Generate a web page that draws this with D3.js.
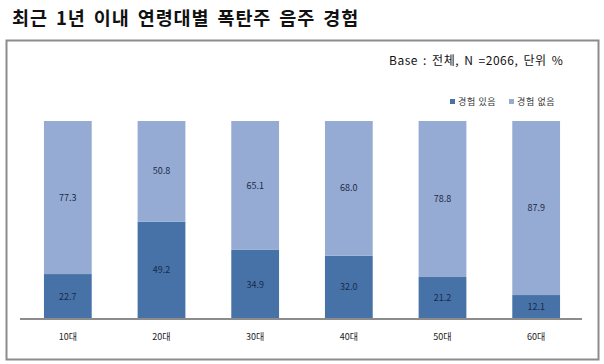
<!DOCTYPE html>
<html>
<head>
<meta charset="utf-8">
<script src="https://cdn.jsdelivr.net/npm/d3@7"></script>
<style>
  body { margin: 0; background: #fff; }
  text { font-family: "Noto Sans CJK KR", "Noto Sans", sans-serif; }
</style>
</head>
<body>
<div id="chart"></div>
<script>
const categories = ["10대", "20대", "30대", "40대", "50대", "60대"];
const withExp = [22.7, 49.2, 34.9, 32.0, 21.2, 12.1];
const withoutExp = [77.3, 50.8, 65.1, 68.0, 78.8, 87.9];
const seriesNames = ["경험 있음", "경험 없음"];
const colors = ["#4672a8", "#96abd3"];

const width = 604, height = 364;

const svg = d3.select("#chart")
    .append("svg")
    .attr("width", width)
    .attr("height", height);

// title
svg.append("text")
    .attr("x", 12)
    .attr("y", 25)
    .attr("font-size", 18.5)
    .attr("font-weight", "bold")
    .attr("fill", "#111")
    .style("letter-spacing", "0.9px")
    .style("word-spacing", "3px")
    .text("최근 1년 이내 연령대별 폭탄주 음주 경험");

// chart frame
svg.append("rect")
    .attr("x", 6.5).attr("y", 40.5)
    .attr("width", 592).attr("height", 319)
    .attr("fill", "#fff")
    .attr("stroke", "#8c8c8c")
    .attr("stroke-width", 2);

svg.append("text")
    .attr("x", 389)
    .attr("y", 65)
    .attr("font-size", 12)
    .attr("fill", "#111")
    .style("letter-spacing", "0.5px")
    .style("word-spacing", "2px")
    .text("Base : 전체, N =2066, 단위 %");

const x = d3.scaleBand()
    .domain(categories)
    .range([21, 583])
    .paddingInner(0.49)
    .paddingOuter(0.245);

const y = d3.scaleLinear()
    .domain([0, 100])
    .range([319, 121]);

const rows = categories.map((c, i) => ({ cat: c, a: withExp[i], b: withoutExp[i] }));
const stack = d3.stack().keys(["a", "b"])(rows);

const layer = svg.selectAll(".layer")
    .data(stack)
    .join("g")
    .attr("class", "layer")
    .attr("fill", (d, i) => colors[i]);

layer.selectAll("rect")
    .data(d => d)
    .join("rect")
    .attr("x", d => x(d.data.cat))
    .attr("width", x.bandwidth())
    .attr("y", d => y(d[1]))
    .attr("height", d => y(d[0]) - y(d[1]));

layer.selectAll("text")
    .data(d => d)
    .join("text")
    .attr("x", d => x(d.data.cat) + x.bandwidth() / 2)
    .attr("y", d => (y(d[0]) + y(d[1])) / 2)
    .attr("dy", "0.35em")
    .attr("text-anchor", "middle")
    .attr("font-size", 9)
    .attr("fill", "#1b2a48")
    .text(d => (d[1] - d[0]).toFixed(1));

// x axis
const xAxis = svg.append("g")
    .attr("transform", "translate(0,319)")
    .call(d3.axisBottom(x).tickSize(0).tickPadding(15));
xAxis.select(".domain")
    .attr("d", "M20,0H582")
    .attr("stroke", "#8c8c8c")
    .attr("stroke-width", 2);
xAxis.selectAll("text")
    .attr("font-size", 9)
    .attr("fill", "#222")
    .style("font-family", "'Noto Sans CJK KR', sans-serif");

// legend
const legendX = [450, 509];
const legend = svg.selectAll(".legend")
    .data(seriesNames)
    .join("g")
    .attr("class", "legend")
    .attr("transform", (d, i) => `translate(${legendX[i]},102)`);
legend.append("rect")
    .attr("x", 0).attr("y", -3)
    .attr("width", 5).attr("height", 5)
    .attr("fill", (d, i) => colors[i]);
legend.append("text")
    .attr("x", 8)
    .attr("dy", "0.35em")
    .attr("font-size", 9)
    .attr("fill", "#333")
    .style("letter-spacing", "0.6px")
    .text(d => d);
</script>
</body>
</html>
